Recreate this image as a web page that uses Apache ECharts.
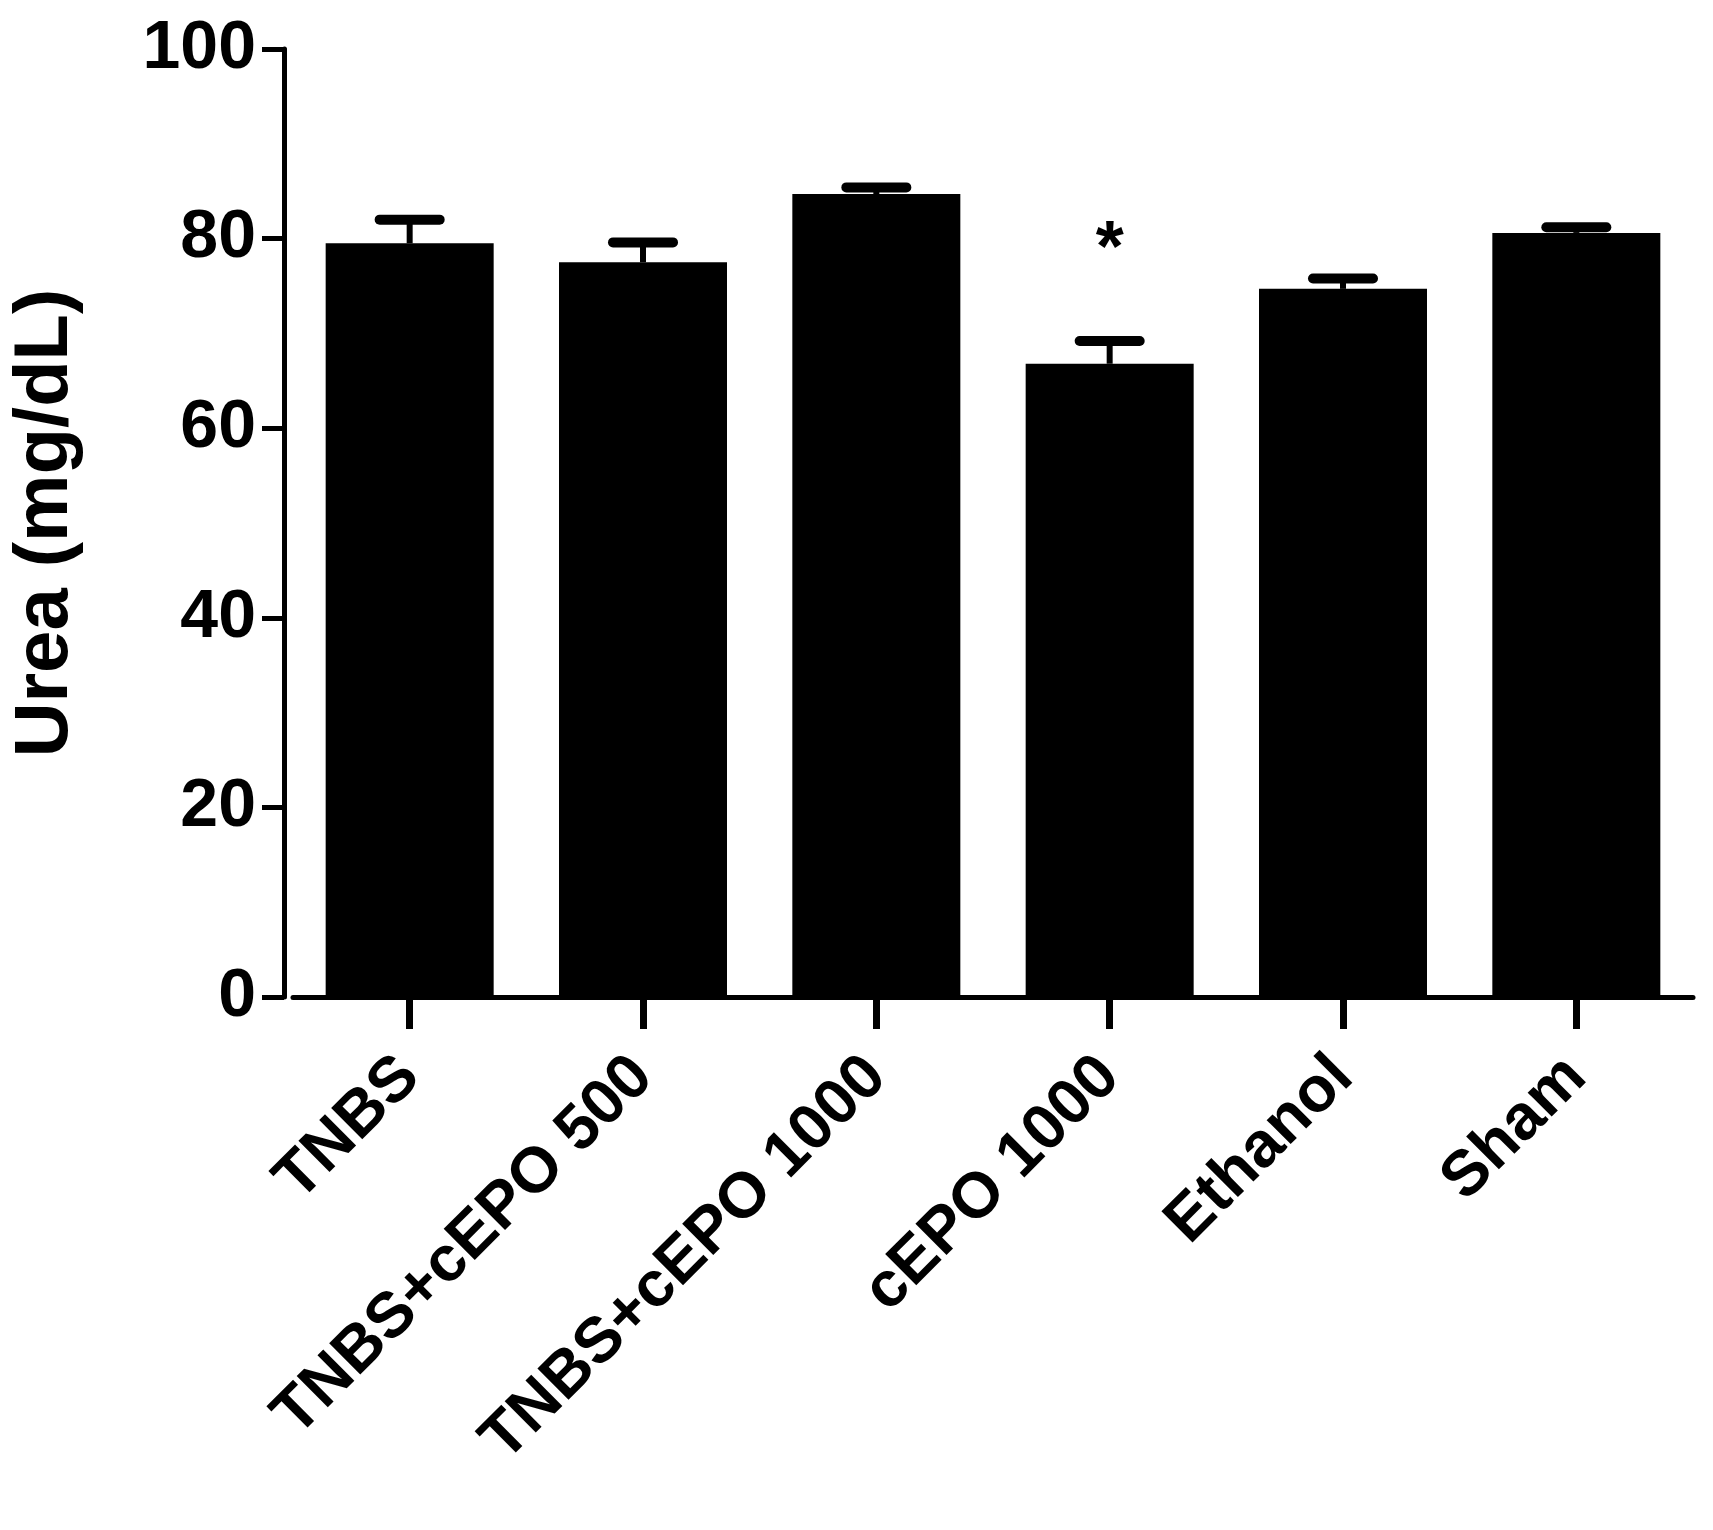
<!DOCTYPE html>
<html>
<head>
<meta charset="UTF-8">
<script src="https://cdn.jsdelivr.net/npm/echarts@6/dist/echarts.min.js"></script>
<style>
  body { margin: 0; background: #fff; }
  #main { width: 1713px; height: 1530px; }
</style>
</head>
<body>
<div id="main"></div>
<script>
  // groups and values
  const groups = ['TNBS', 'TNBS+cEPO 500', 'TNBS+cEPO 1000', 'cEPO 1000', 'Ethanol', 'Sham'];
  const means = [79.5, 77.5, 84.7, 66.8, 74.7, 80.6];
  const errTop = [82, 79.6, 85.4, 69.2, 75.8, 81.2];
  const marks = ['', '', '', '*', '', ''];

  const font = 'Liberation Sans, Arial, sans-serif';
  const chart = echarts.init(document.getElementById('main'));

  chart.setOption({
    animation: false,
    grid: { left: 269, right: 20, top: 49, bottom: 533 },
    xAxis: {
      type: 'category',
      data: groups,
      axisLine: { lineStyle: { color: '#000', width: 5 } },
      axisTick: { show: true, alignWithLabel: true, length: 32, lineStyle: { color: '#000', width: 7 } },
      axisLabel: { rotate: 45, margin: 70, color: '#000', fontSize: 64, fontWeight: 'bold', fontFamily: font }
    },
    yAxis: {
      type: 'value', min: 0, max: 100, interval: 20,
      offset: 9,
      name: 'Urea (mg/dL)', nameLocation: 'middle', nameGap: 200,
      nameTextStyle: { color: '#000', fontSize: 76, fontWeight: 'bold', fontFamily: font },
      axisLine: { show: true, lineStyle: { color: '#000', width: 5 } },
      axisTick: { show: true, length: 22, lineStyle: { color: '#000', width: 5 } },
      axisLabel: { color: '#000', fontSize: 68, fontWeight: 'bold', fontFamily: font, margin: 28 },
      splitLine: { show: false }
    },
    series: [
      {
        type: 'bar', data: means, barWidth: '72%',
        itemStyle: { color: '#000' }
      },
      {
        type: 'custom',
        data: groups.map((g, i) => [i, means[i], errTop[i], marks[i]]),
        renderItem: function (params, api) {
          const base = api.coord([api.value(0), api.value(1)]);
          const top = api.coord([api.value(0), api.value(2)]);
          const cap = 30;
          const children = [
            { type: 'line', shape: { x1: base[0], y1: base[1], x2: top[0], y2: top[1] }, style: { stroke: '#000', lineWidth: 6 } },
            { type: 'line', shape: { x1: top[0] - cap, y1: top[1], x2: top[0] + cap, y2: top[1] }, style: { stroke: '#000', lineWidth: 10, lineCap: 'round' } }
          ];
          const m = api.value(3);
          if (m) {
            children.push({ type: 'text', style: { text: m, x: top[0], y: top[1] - 90, align: 'center', verticalAlign: 'middle', fill: '#000', font: 'bold 72px ' + font } });
          }
          return { type: 'group', children: children };
        },
        z: 3
      }
    ]
  });
</script>
</body>
</html>
